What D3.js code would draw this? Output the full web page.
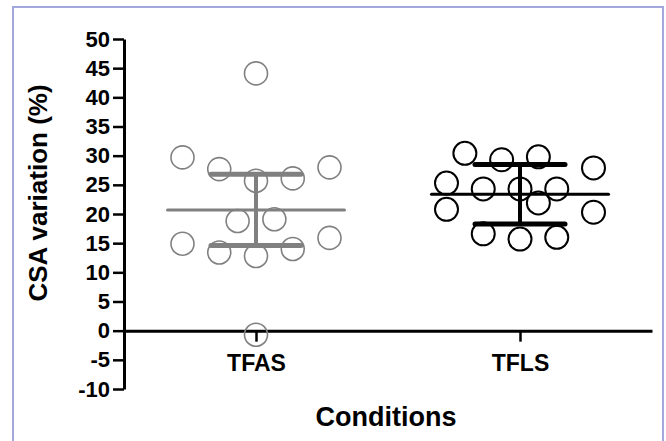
<!DOCTYPE html>
<html lang="en">
  <head>
    <meta charset="UTF-8" />
    <title>CSA variation</title>
    <style>
      body { margin: 0; background: #fff; }
      text { font-family: "Liberation Sans", Arial, sans-serif; font-weight: bold; fill: #000; }
    </style>
  </head>
  <body>
    <svg id="svg" width="666" height="441"></svg>
    <script src="https://d3js.org/d3.v7.min.js"></script>
    <script>
      // data
      const conditions = ["TFAS", "TFLS"];
      const tfasValues = [44.1, 29.7, 27.7, 28.0, 25.7, 26.1, 18.8, 19.1, 14.9, 15.9, 13.4, 12.8, 14.0, -0.7];
      const tfasSlots = [0, -4, -2, 4, 0, 2, -1, 1, -4, 4, -2, 0, 2, 0];
      const tflsValues = [30.4, 29.3, 29.8, 27.9, 25.3, 24.3, 24.3, 24.3, 21.9, 20.8, 20.3, 16.6, 15.7, 16.0];
      const tflsSlots = [-3, -1, 1, 4, -4, -2, 0, 2, 1, -4, 4, -2, 0, 2];
      const means = [20.7, 23.4];
      const sds = [6.1, 5.1];
      const yTicks = [50, 45, 40, 35, 30, 25, 20, 15, 10, 5, 0, -5, -10];

      const colors = ["#808080", "#000000"];

      const svg = d3.select("#svg");

      // frame around the graph
      svg.append("rect")
        .attr("x", 13).attr("y", 7)
        .attr("width", 650).attr("height", 450)
        .attr("fill", "none")
        .attr("stroke", "#a3a8dc")
        .attr("stroke-width", 2);

      const xScale = d3.scalePoint().domain(conditions).range([124, 652]).padding(0.5);
      const yScale = d3.scaleLinear().domain([-10, 50]).range([389, 39]);
      const slotScale = d3.scaleLinear().domain([-4, 4]).range([-73.5, 73.5]);

      const groups = [
        { name: conditions[0], values: tfasValues, slots: tfasSlots },
        { name: conditions[1], values: tflsValues, slots: tflsSlots }
      ];

      // y axis
      const yAxis = svg.append("g")
        .attr("transform", "translate(124,0)")
        .call(d3.axisLeft(yScale).tickValues(yTicks).tickFormat((d) => String(d))
          .tickSize(11).tickPadding(3).tickSizeOuter(0));
      yAxis.select(".domain").attr("stroke-width", 3);
      yAxis.selectAll(".tick line").attr("stroke-width", 2.5);
      yAxis.selectAll(".tick text")
        .attr("font-size", 22)
        .attr("font-family", "'Liberation Sans', Arial, sans-serif")
        .attr("font-weight", "bold");

      // x axis at zero
      const xAxis = svg.append("g")
        .attr("transform", `translate(0,${yScale(0)})`)
        .call(d3.axisBottom(xScale).tickSize(11).tickPadding(13).tickSizeOuter(0));
      xAxis.select(".domain").attr("stroke-width", 3);
      xAxis.selectAll(".tick line").attr("stroke-width", 2.5);
      xAxis.selectAll(".tick text")
        .attr("font-size", 23)
        .attr("font-family", "'Liberation Sans', Arial, sans-serif")
        .attr("font-weight", "bold");

      // points
      groups.forEach((g, gi) => {
        svg.append("g")
          .selectAll("circle")
          .data(g.values)
          .join("circle")
          .attr("cx", (d, i) => xScale(g.name) + slotScale(g.slots[i]))
          .attr("cy", (d) => yScale(d))
          .attr("r", 11.5)
          .attr("fill", "none")
          .attr("stroke", colors[gi])
          .attr("stroke-width", gi === 0 ? 1.6 : 2);
      });

      // mean and SD bars
      const stats = svg.append("g");
      groups.forEach((g, gi) => {
        const cx = xScale(g.name);
        const m = means[gi], s = sds[gi];
        stats.append("line")
          .attr("x1", cx - 88.5).attr("x2", cx + 88.5)
          .attr("y1", yScale(m)).attr("y2", yScale(m))
          .attr("stroke", colors[gi]).attr("stroke-width", 3).attr("stroke-linecap", "round");
        stats.append("line")
          .attr("x1", cx).attr("x2", cx)
          .attr("y1", yScale(m + s)).attr("y2", yScale(m - s))
          .attr("stroke", colors[gi]).attr("stroke-width", 4);
        [m + s, m - s].forEach((v) => {
          stats.append("line")
            .attr("x1", cx - 45).attr("x2", cx + 45)
            .attr("y1", yScale(v)).attr("y2", yScale(v))
            .attr("stroke", colors[gi]).attr("stroke-width", 5).attr("stroke-linecap", "round");
        });
      });

      // axis titles
      svg.append("text")
        .attr("transform", "translate(47,193) rotate(-90)")
        .attr("text-anchor", "middle")
        .attr("font-size", 26)
        .text("CSA variation (%)");

      svg.append("text")
        .attr("x", 386).attr("y", 426)
        .attr("text-anchor", "middle")
        .attr("font-size", 27)
        .text("Conditions");
    </script>
  </body>
</html>
